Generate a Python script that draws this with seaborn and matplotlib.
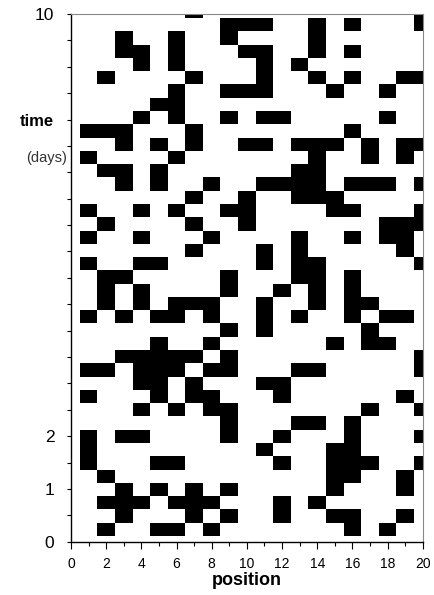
import numpy as np
import matplotlib
matplotlib.use("Agg")
import matplotlib.pyplot as plt
from matplotlib.colors import ListedColormap
import seaborn as sns

# lattice sites along the line
positions = list(range(21))

# occupied sites at each recorded time step, earliest first
occupied = [
    [],
    [2, 5, 6, 8, 16, 18],
    [3, 7, 9, 12, 15, 16, 19],
    [2, 3, 4, 6, 7, 8, 12, 14],
    [3, 5, 7, 9, 15, 19],
    [2, 15, 16, 19],
    [1, 5, 6, 12, 15, 16, 17, 20],
    [1, 11, 15, 16],
    [1, 3, 4, 9, 12, 16, 20],
    [9, 13, 14, 16],
    [4, 6, 8, 9, 17, 20],
    [1, 5, 7, 8, 12, 19],
    [4, 5, 7, 11, 12],
    [1, 2, 4, 5, 6, 8, 9, 13, 14, 20],
    [3, 4, 5, 6, 7, 9, 20],
    [5, 8, 15, 17, 18],
    [9, 11, 17],
    [1, 3, 5, 6, 8, 11, 13, 16, 18, 19],
    [2, 4, 6, 7, 8, 11, 14, 16, 17],
    [2, 4, 9, 12, 14, 16],
    [2, 3, 9, 13, 14, 16],
    [1, 4, 5, 11, 13, 14, 20],
    [7, 11, 13, 19],
    [1, 4, 8, 13, 16, 18, 19],
    [2, 7, 10, 18, 19, 20],
    [1, 4, 6, 9, 10, 15, 16, 20],
    [7, 10, 13, 14, 15],
    [3, 5, 8, 11, 12, 13, 14, 16, 17, 18, 20],
    [2, 3, 5, 13, 14],
    [1, 6, 14, 17, 19],
    [3, 5, 7, 10, 11, 13, 14, 15, 17, 19, 20],
    [1, 2, 3, 7, 16],
    [4, 6, 9, 11, 12, 18],
    [5, 6],
    [6, 9, 10, 11, 15, 18],
    [2, 7, 11, 14, 16, 19, 20],
    [4, 6, 11, 13],
    [3, 4, 6, 10, 11, 14, 16],
    [3, 6, 9, 14],
    [9, 10, 11, 14, 16, 20],
    [7, 20],
]

# time axis ticks (days) and their labels
time_ticks = [i * 0.5 for i in range(21)]
time_labels = {0: "0", 1: "1", 2: "2", 8: "time", 10: "10"}
position_ticks = list(range(0, 21, 2))

# sampling of the time steps
t_first = -0.018
t_step = 0.2517

grid = np.zeros((len(occupied), len(positions)))
for row, sites in enumerate(occupied):
    grid[row, sites] = 1


def day_to_row(d):
    return (d - t_first) / t_step + 0.5


sns.set_style("white")
plt.rcParams["font.family"] = ["Liberation Sans", "DejaVu Sans"]
plt.rcParams["text.color"] = "black"
plt.rcParams["axes.labelcolor"] = "black"
plt.rcParams["xtick.color"] = "black"
plt.rcParams["ytick.color"] = "black"

fig = plt.figure(figsize=(4.34, 5.95), dpi=100)
ax = fig.add_axes([71 / 434, 1 - 541.7 / 595, (422.7 - 71) / 434, (541.7 - 14) / 595])

sns.heatmap(grid, ax=ax, cmap=ListedColormap(["white", "black"]), vmin=0, vmax=1,
            cbar=False, xticklabels=False, yticklabels=False, linewidths=0)

ax.set_xlim(positions[0] + 0.5, positions[-1] + 0.5)
ax.set_ylim(day_to_row(0), day_to_row(10))

for name, sp in ax.spines.items():
    sp.set_visible(True)
    if name in ("left", "bottom"):
        sp.set_color("black")
        sp.set_linewidth(1.0)
    else:
        sp.set_color("#888888")
        sp.set_linewidth(0.8)

# position axis
ax.set_xticks([p + 0.5 for p in position_ticks])
ax.set_xticklabels([str(p) for p in position_ticks], fontsize=10, color="black")
ax.set_xticks([p + 0.5 for p in positions if p % 2 == 1], minor=True)
ax.tick_params(axis="x", which="major", direction="out", length=5, width=0.8,
               pad=6, bottom=True, labelbottom=True, colors="black")
ax.tick_params(axis="x", which="minor", direction="out", length=3, width=0.8,
               bottom=True, colors="black")

# time axis
ax.set_yticks([day_to_row(d) for d in time_ticks])
ylabels = [time_labels.get(int(d), "") if float(d).is_integer() else "" for d in time_ticks]
ax.set_yticklabels(ylabels, fontsize=12.5, rotation=0, color="black")
ax.tick_params(axis="y", which="major", direction="out", length=3, width=0.8,
               pad=9, left=True, labelleft=True, colors="black")
for lab in ax.get_yticklabels():
    if lab.get_text() == "time":
        lab.set_fontweight("bold")
        lab.set_fontsize(12)

ax.text(-0.012, day_to_row(7.28), "(days)", transform=ax.get_yaxis_transform(),
        ha="right", va="center", fontsize=10.5, color="#333333")

ax.set_xlabel("position", fontsize=13, fontweight="bold", labelpad=1, color="black")
ax.set_ylabel("")

fig.savefig("out.png", dpi=100, facecolor="white")
